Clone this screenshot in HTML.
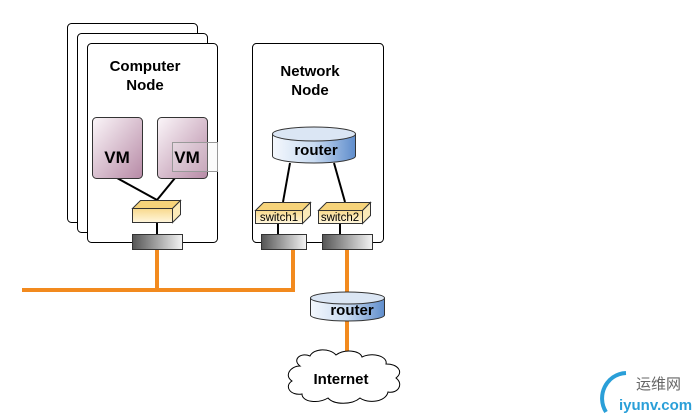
<!DOCTYPE html>
<html><head><meta charset="utf-8"><style>
html,body{margin:0;padding:0;background:#fff;}
svg{display:block;font-family:"Liberation Sans",Arial,sans-serif;}
</style></head><body>
<svg width="700" height="418" viewBox="0 0 700 418" xmlns="http://www.w3.org/2000/svg">
<defs>
<linearGradient id="vm" x1="0" y1="0" x2="1" y2="1"><stop offset="0" stop-color="#fbf6f9"/><stop offset="1" stop-color="#b78aa6"/></linearGradient>
<linearGradient id="rt" x1="0" y1="0" x2="1" y2="0"><stop offset="0" stop-color="#f4f8fd"/><stop offset="0.5" stop-color="#c9dbf1"/><stop offset="1" stop-color="#5f8dcc"/></linearGradient>
<linearGradient id="nic" x1="0" y1="0" x2="1" y2="0"><stop offset="0" stop-color="#555"/><stop offset="1" stop-color="#f4f4f4"/></linearGradient>
<linearGradient id="sw" x1="0" y1="0" x2="0" y2="1"><stop offset="0" stop-color="#f8d98c"/><stop offset="1" stop-color="#fff6dd"/></linearGradient>
</defs>
<g fill="#fff" stroke="#000" stroke-width="1">
<rect x="67.5" y="23.5" width="130" height="199" rx="4"/>
<rect x="77.5" y="33.5" width="130" height="199" rx="4"/>
<rect x="87.5" y="43.5" width="130" height="199" rx="4"/>
<rect x="252.5" y="43.5" width="131" height="199" rx="4"/>
</g>
<g font-weight="bold" font-size="15" text-anchor="middle" fill="#000">
<text x="145" y="71">Computer</text><text x="145" y="90">Node</text>
<text x="310" y="76">Network</text><text x="310" y="95">Node</text>
</g>
<g stroke="#000" stroke-width="2">
<line x1="117" y1="178" x2="157" y2="200"/><line x1="175" y1="178" x2="157" y2="200"/>
<line x1="157" y1="222" x2="157" y2="234"/>
<line x1="290" y1="163" x2="283" y2="202"/><line x1="334" y1="163" x2="345" y2="202"/>
<line x1="278" y1="223" x2="278" y2="234"/><line x1="340" y1="223" x2="340" y2="234"/>
</g>
<rect x="92.5" y="117.5" width="50" height="61" rx="4" fill="url(#vm)" stroke="#333"/>
<rect x="157.5" y="117.5" width="50" height="61" rx="4" fill="url(#vm)" stroke="#333"/>
<rect x="172.5" y="142.5" width="45" height="29" fill="rgba(240,240,240,0.25)" stroke="#999"/>
<text x="117" y="163" font-size="17" font-weight="bold" text-anchor="middle">VM</text>
<text x="187" y="163" font-size="17" font-weight="bold" text-anchor="middle">VM</text>
<g stroke="#333" stroke-width="1">
<polygon points="132.5,208.5 140.5,200.5 180.5,200.5 172.5,208.5" fill="#f6d37a"/>
<polygon points="172.5,208.5 180.5,200.5 180.5,214.5 172.5,222.5" fill="#fbeab8"/>
<rect x="132.5" y="208.5" width="40" height="14" fill="url(#sw)"/>
<polygon points="255.5,210.5 263.5,202.5 310.5,202.5 302.5,210.5" fill="#f6d37a"/>
<polygon points="302.5,210.5 310.5,202.5 310.5,215.5 302.5,223.5" fill="#fbeab8"/>
<rect x="255.5" y="210.5" width="47" height="13" fill="url(#sw)"/>
<polygon points="318.5,210.5 326.5,202.5 370.5,202.5 362.5,210.5" fill="#f6d37a"/>
<polygon points="362.5,210.5 370.5,202.5 370.5,215.5 362.5,223.5" fill="#fbeab8"/>
<rect x="318.5" y="210.5" width="44" height="13" fill="url(#sw)"/>
</g>
<text x="279" y="221" font-size="11.5" text-anchor="middle">switch1</text>
<text x="340" y="221" font-size="11.5" text-anchor="middle">switch2</text>
<g stroke="#333">
<rect x="132.5" y="234.5" width="50" height="15" fill="url(#nic)"/>
<rect x="261.5" y="234.5" width="45" height="15" fill="url(#nic)"/>
<rect x="322.5" y="234.5" width="50" height="15" fill="url(#nic)"/>
</g>
<g stroke="#f28a1e" stroke-width="4" fill="none">
<polyline points="157,250 157,290"/>
<polyline points="22,290 293,290 293,250"/>
<line x1="347" y1="250" x2="347" y2="294"/>
<line x1="347" y1="320" x2="347" y2="356"/>
</g>
<g stroke="#333">
<path d="M272.5,134 L272.5,156 A41.5,7 0 0 0 355.5,156 L355.5,134" fill="url(#rt)"/>
<ellipse cx="314" cy="134" rx="41.5" ry="7" fill="#dbe6f4"/>
<path d="M310.5,298 L310.5,315 A37,6 0 0 0 384.5,315 L384.5,298" fill="url(#rt)"/>
<ellipse cx="347.5" cy="298" rx="37" ry="6" fill="#dbe6f4"/>
</g>
<text x="316" y="155" font-size="15" font-weight="bold" text-anchor="middle">router</text>
<text x="352" y="315" font-size="15" font-weight="bold" text-anchor="middle">router</text>
<path d="M300,366 C292,360 300,352 310,356 C314,348 330,348 336,355 C344,349 360,350 362,357 C372,352 388,356 386,364 C398,364 404,372 396,378 C404,384 398,394 388,392 C386,402 368,404 360,398 C352,405 334,405 328,398 C318,404 302,402 302,394 C290,396 284,386 292,381 C284,376 290,366 300,366 Z" fill="#fff" stroke="#000"/>
<text x="341" y="384" font-size="15" font-weight="bold" text-anchor="middle">Internet</text>
<path d="M626,373 C606,374 596,396 606,412" stroke="#2a9fd8" stroke-width="4" fill="none"/>
<text x="636" y="389" font-size="15" fill="#666" font-family="'Noto Sans CJK SC',sans-serif">运维网</text>
<text x="619" y="410" font-size="15" font-weight="bold" fill="#2a9fd8">iyunv.com</text>
</svg>
</body></html>
